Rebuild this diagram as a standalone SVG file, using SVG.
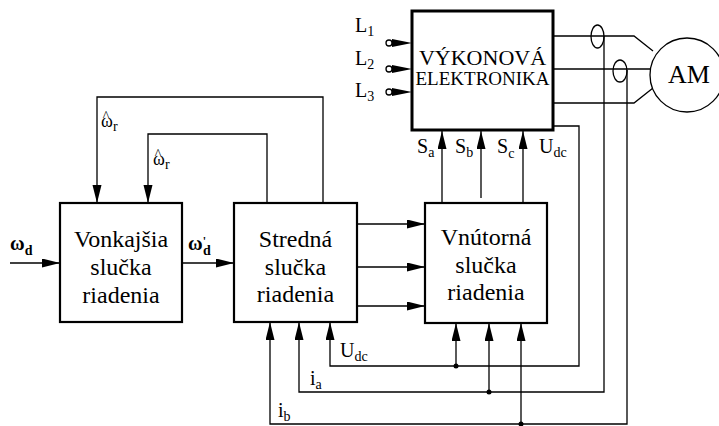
<svg xmlns="http://www.w3.org/2000/svg" width="719" height="426" viewBox="0 0 719 426" font-family="'Liberation Serif', 'DejaVu Serif', serif">
<defs>
<marker id="ah" markerUnits="userSpaceOnUse" markerWidth="18" markerHeight="10" refX="18" refY="4.5" orient="auto">
<path d="M0,0 L18,4.5 L0,9 z" fill="#000"/>
</marker>
<style>
text{font-family:'Liberation Serif','DejaVu Serif',serif;fill:#000}
.box{fill:#fff;stroke:#000;stroke-width:2.2}
.pbox{fill:#fff;stroke:#000;stroke-width:3}
.c{fill:none;stroke:#000;stroke-width:1.3}
.a{fill:none;stroke:#000;stroke-width:1.3;marker-end:url(#ah)}
.bt{font-size:24px;text-anchor:middle}
.lbl{font-size:20px}
.sub{font-size:14px}
.dot{fill:#000}
</style>
</defs>

<g id="connectors">
<line class="a" x1="10" y1="263" x2="60" y2="263"/>
<line class="a" x1="182" y1="263" x2="234" y2="263"/>
<polyline class="a" points="323,203 323,97 97,97 97,203"/>
<polyline class="a" points="267,203 267,134 148,134 148,203"/>
<line class="a" x1="357" y1="224" x2="425" y2="224"/>
<line class="a" x1="357" y1="267" x2="425" y2="267"/>
<line class="a" x1="357" y1="306" x2="425" y2="306"/>
<line class="a" x1="442" y1="203" x2="442" y2="131"/>
<line class="a" x1="481" y1="198" x2="481" y2="131"/>
<line class="a" x1="523" y1="203" x2="523" y2="131"/>
<polyline class="a" points="550,126 579,126 579,366 330,366 330,322"/>
<line class="a" x1="456" y1="366" x2="456" y2="323"/>
<polyline class="a" points="604,36 604,392 299,392 299,322"/>
<line class="a" x1="489" y1="392" x2="489" y2="323"/>
<polyline class="a" points="627,70 627,424 270,424 270,322"/>
<line class="a" x1="521" y1="424" x2="521" y2="323"/>
<circle class="dot" cx="456" cy="366" r="2.5"/>
<circle class="dot" cx="489" cy="392" r="2.5"/>
<circle class="dot" cx="521" cy="424" r="2.5"/>
<polyline class="c" points="553,36 634,36 653,51"/>
<line class="c" x1="553" y1="69" x2="650" y2="69"/>
<polyline class="c" points="553,103 634,103 653,88"/>
<ellipse class="c" cx="597.5" cy="36.5" rx="6.5" ry="11.5"/>
<ellipse class="c" cx="620" cy="71" rx="7" ry="11"/>
<g id="mains">
<circle cx="389" cy="43" r="3" fill="#fff" stroke="#000" stroke-width="1.3"/>
<polygon points="392,39 412,43 392,47" fill="#000"/>
<circle cx="389" cy="69" r="3" fill="#fff" stroke="#000" stroke-width="1.3"/>
<polygon points="392,65 412,69 392,73" fill="#000"/>
<circle cx="389" cy="92" r="3" fill="#fff" stroke="#000" stroke-width="1.3"/>
<polygon points="392,88 412,92 392,96" fill="#000"/>
</g>
</g>

<g id="vonkajsia">
<rect class="box" x="60" y="203" width="122" height="119"/>
<text class="bt" x="121" y="247">Vonkajšia</text>
<text class="bt" x="121" y="275">slučka</text>
<text class="bt" x="121" y="303">riadenia</text>
</g>

<g id="stredna">
<rect class="box" x="234" y="203" width="123" height="119"/>
<text class="bt" x="295.5" y="247">Stredná</text>
<text class="bt" x="295.5" y="275">slučka</text>
<text class="bt" x="295.5" y="302">riadenia</text>
</g>

<g id="vnutorna">
<rect class="box" x="425" y="203" width="122" height="120"/>
<text class="bt" x="486" y="245">Vnútorná</text>
<text class="bt" x="486" y="273">slučka</text>
<text class="bt" x="486" y="300">riadenia</text>
</g>

<g id="vykonova">
<rect class="pbox" x="412" y="11" width="141" height="119"/>
<text x="482.5" y="65" font-size="22" text-anchor="middle">VÝKONOVÁ</text>
<text x="482.5" y="85" font-size="19" text-anchor="middle">ELEKTRONIKA</text>
</g>

<g id="am">
<circle cx="687" cy="75" r="37" fill="#fff" stroke="#000" stroke-width="1.3"/>
<text x="689" y="83" font-size="26" text-anchor="middle">AM</text>
</g>

<g id="labels">
<text x="10" y="250" font-size="20" font-weight="bold">ω<tspan class="sub" dy="5">d</tspan></text>
<text x="188" y="250" font-size="20" font-weight="bold">ω<tspan font-size="12" dy="-5">'</tspan><tspan class="sub" dx="-3" dy="10">d</tspan></text>
<text x="101" y="127" font-size="18">ω<tspan font-size="14" dx="-10" dy="-6">^</tspan><tspan class="sub" dx="3.5" dy="10">r</tspan></text>
<text x="153" y="165" font-size="18">ω<tspan font-size="14" dx="-10" dy="-6">^</tspan><tspan class="sub" dx="3.5" dy="10">r</tspan></text>
<text class="lbl" x="355" y="32">L<tspan class="sub" dy="4">1</tspan></text>
<text class="lbl" x="355" y="65">L<tspan class="sub" dy="4">2</tspan></text>
<text class="lbl" x="355" y="97">L<tspan class="sub" dy="4">3</tspan></text>
<text class="lbl" x="417" y="153">S<tspan class="sub" dy="4">a</tspan></text>
<text class="lbl" x="455" y="153">S<tspan class="sub" dy="4">b</tspan></text>
<text class="lbl" x="497" y="153">S<tspan class="sub" dy="5">c</tspan></text>
<text class="lbl" x="539" y="153">U<tspan class="sub" dy="4">dc</tspan></text>
<text class="lbl" x="340" y="357">U<tspan class="sub" dy="4">dc</tspan></text>
<text class="lbl" x="310" y="385">i<tspan class="sub" dy="4">a</tspan></text>
<text class="lbl" x="278" y="417">i<tspan class="sub" dy="4">b</tspan></text>
</g>
</svg>
